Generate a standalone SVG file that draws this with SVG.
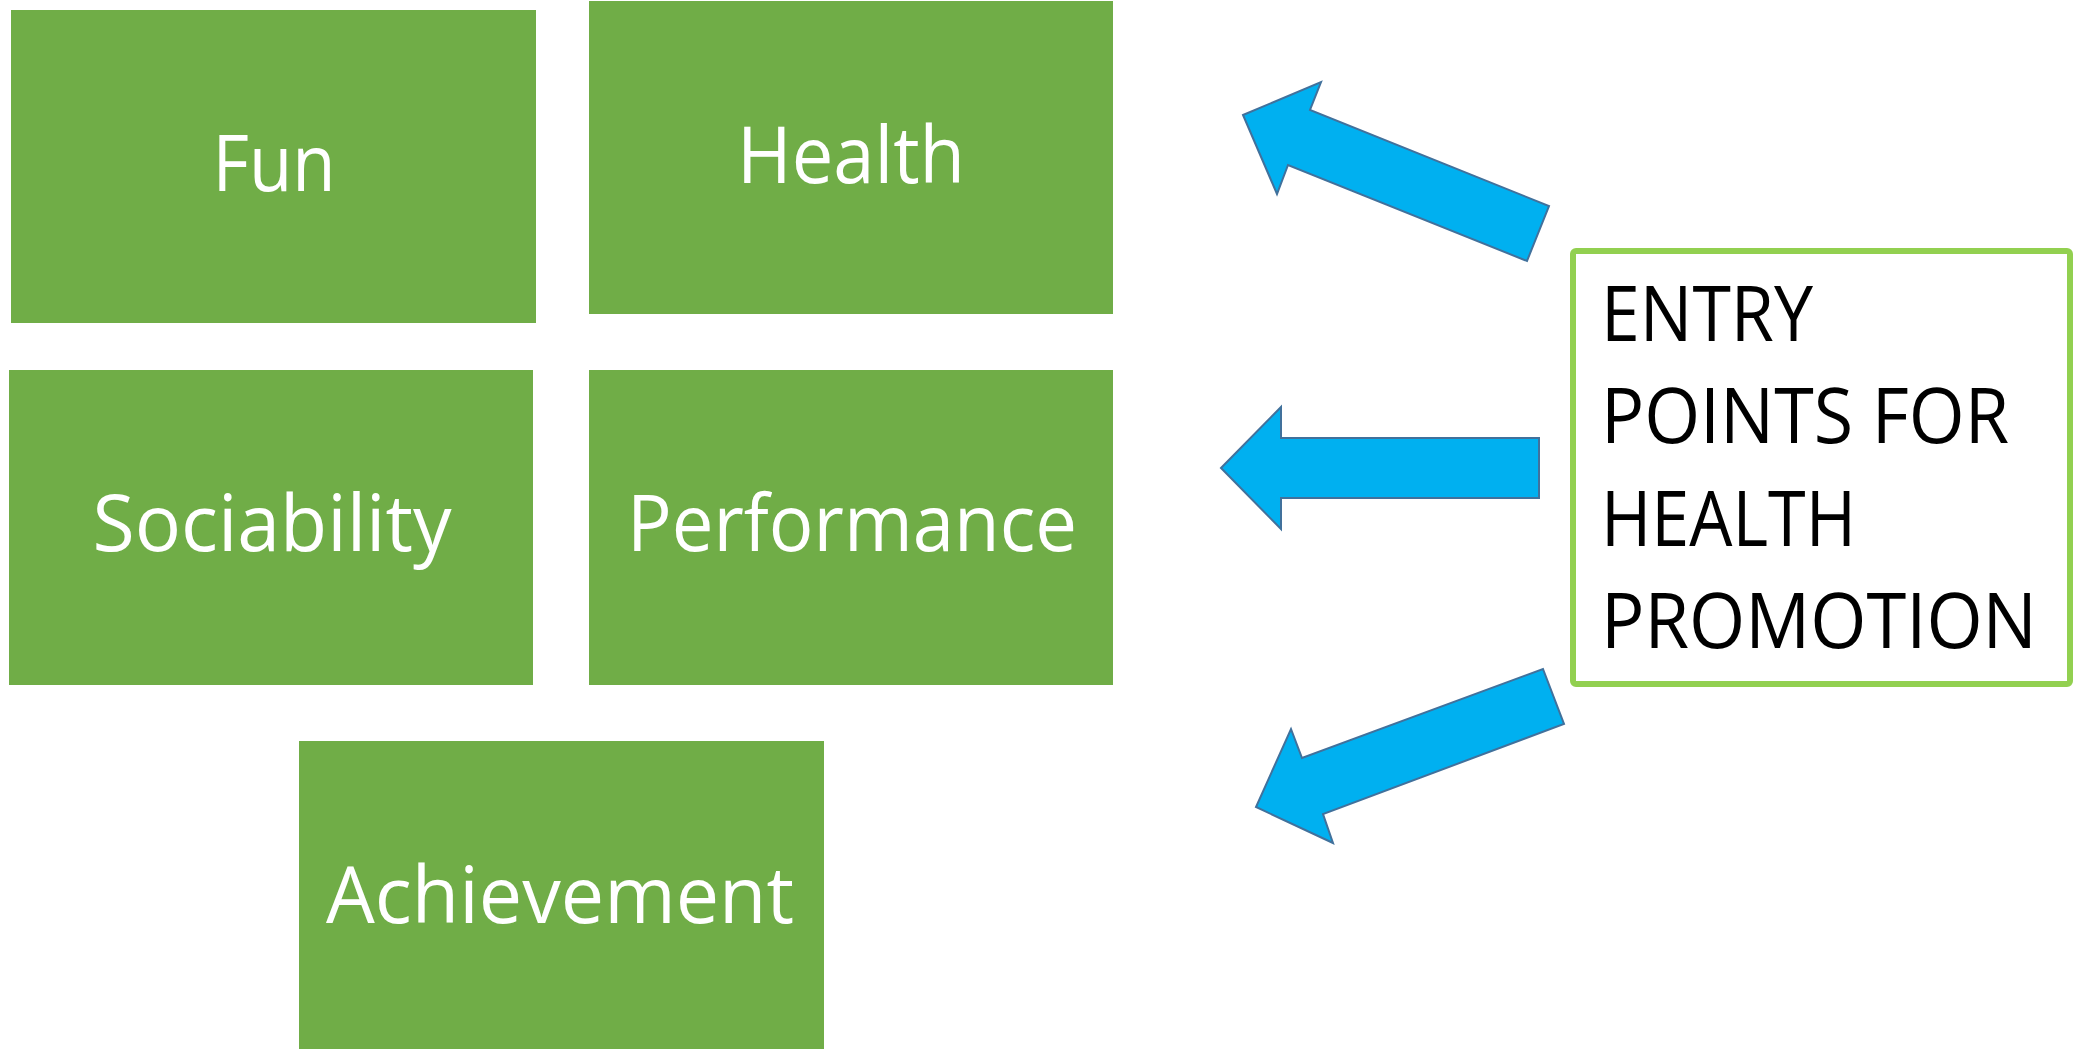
<svg xmlns="http://www.w3.org/2000/svg" width="2083" height="1049" viewBox="0 0 2083 1049">
  <style>
    .tile { fill: #70AD47; }
    .tile-label { font-family: "Open Sans", "Noto Sans", sans-serif; font-size: 78px; fill: #FFFFFF; text-anchor: middle; }
    .entry-box { fill: #FFFFFF; stroke: #92D050; stroke-width: 6; }
    .entry-label { font-family: "Open Sans", "Noto Sans", sans-serif; font-size: 76px; fill: #000000; }
    .block-arrow { fill: #00B0F0; stroke: #41719C; stroke-width: 2; stroke-linejoin: miter; }
  </style>
  <rect width="2083" height="1049" fill="#FFFFFF"/>

  <!-- motivation tiles -->
  <g id="fun">
    <rect class="tile" x="11" y="10" width="525" height="313"/>
    <text class="tile-label" x="274" y="191" textLength="123" lengthAdjust="spacingAndGlyphs">Fun</text>
  </g>
  <g id="health">
    <rect class="tile" x="589" y="1" width="524" height="313"/>
    <text class="tile-label" x="851" y="183" textLength="228" lengthAdjust="spacingAndGlyphs">Health</text>
  </g>
  <g id="sociability">
    <rect class="tile" x="9" y="370" width="524" height="315"/>
    <text class="tile-label" x="272" y="551" textLength="359" lengthAdjust="spacingAndGlyphs">Sociability</text>
  </g>
  <g id="performance">
    <rect class="tile" x="589" y="370" width="524" height="315"/>
    <text class="tile-label" x="852" y="551" textLength="450" lengthAdjust="spacingAndGlyphs">Performance</text>
  </g>
  <g id="achievement">
    <rect class="tile" x="299" y="741" width="525" height="310"/>
    <text class="tile-label" x="560" y="923" textLength="468" lengthAdjust="spacingAndGlyphs">Achievement</text>
  </g>

  <!-- source box -->
  <g id="entry-points">
    <rect class="entry-box" x="1573" y="251" width="497" height="433" rx="3" ry="3"/>
    <text class="entry-label" x="1601" y="341" textLength="212" lengthAdjust="spacingAndGlyphs">ENTRY</text>
    <text class="entry-label" x="1601" y="443" textLength="408" lengthAdjust="spacingAndGlyphs">POINTS FOR</text>
    <text class="entry-label" x="1601" y="546" textLength="255" lengthAdjust="spacingAndGlyphs">HEALTH</text>
    <text class="entry-label" x="1601" y="648" textLength="436" lengthAdjust="spacingAndGlyphs">PROMOTION</text>
  </g>

  <!-- block arrows from the box towards the tiles -->
  <g id="connectors">
    <polygon class="block-arrow" points="1243,115 1321,82 1310,110 1549,206 1527,261 1288,165 1277,194"/>
    <polygon class="block-arrow" points="1221,468 1281,407 1281,438 1539,438 1539,498 1281,498 1281,529"/>
    <polygon class="block-arrow" points="1543,669 1564,724 1323,814 1333,843 1256,807 1291,729 1302,758"/>
  </g>
</svg>
